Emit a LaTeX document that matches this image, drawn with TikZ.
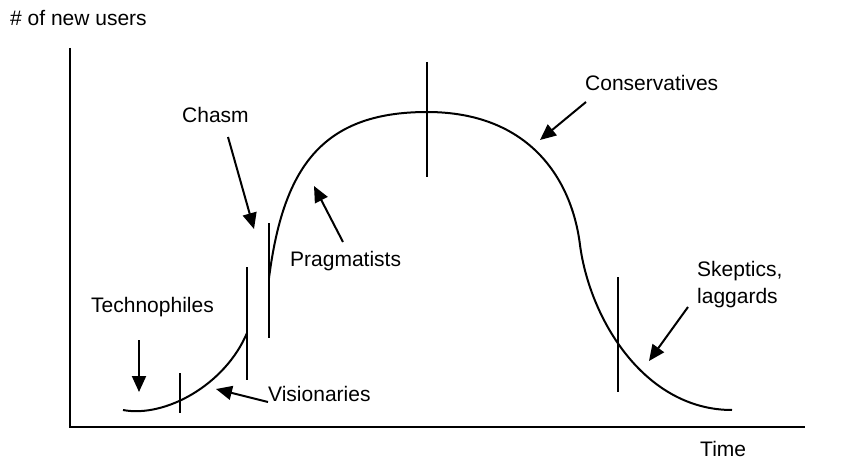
\documentclass[tikz,border=0pt]{standalone}
\usepackage{fontspec}
\setmainfont{Liberation Sans}
\usetikzlibrary{arrows.meta}
\tikzset{
  lbl/.style={inner sep=0pt, anchor=base west, font=\fontsize{21}{27}\selectfont},
  axisline/.style={line width=2.4pt},
  curveline/.style={line width=2pt},
  tickline/.style={line width=2pt},
  ptr/.style={line width=2pt, -{Triangle[length=16pt,width=14pt]}}
}
\begin{document}
\begin{tikzpicture}[x=1pt,y=-1pt]
\useasboundingbox (0,0) rectangle (841,460);
% axes
\coordinate (ytop) at (70,48);
\coordinate (orig) at (70,427);
\coordinate (xend) at (805,427);
\draw[axisline] (ytop) -- (orig) -- (xend);
% labels
\node[lbl] (ylab) at (10,26) {\# of new users};
\node[lbl] (tlab) at (700,456) {Time};
\node[lbl] (techno) at (91,312) {Technophiles};
\node[lbl] (vision) at (268,401) {Visionaries};
\node[lbl] (chasm) at (182,122) {Chasm};
\node[lbl] (pragma) at (290,266) {Pragmatists};
\node[lbl] (conserv) at (585,91) {Conservatives};
\node[lbl, align=left] (skep) at (697,303) {Skeptics,\\laggards};
% curve
\coordinate (c0) at (123,410);
\coordinate (c1) at (247,333);
\coordinate (c2) at (269,278);
\coordinate (peak) at (427,112);
\coordinate (c3) at (580,245);
\coordinate (c4) at (732,410);
\draw[curveline] (c0) .. controls (165,418) and (225,385) .. (c1);
\draw[curveline] (c2) .. controls (283,170) and (320,112) .. (peak)
  .. controls (530,112) and (572,180) .. (c3)
  .. controls (590,320) and (645,410) .. (c4);
% ticks
\coordinate (t1a) at (180,373); \coordinate (t1b) at (180,413);
\coordinate (t2a) at (247,267); \coordinate (t2b) at (247,380);
\coordinate (t3a) at (269,223); \coordinate (t3b) at (269,338);
\coordinate (t4a) at (427,62);  \coordinate (t4b) at (427,177);
\coordinate (t5a) at (618,277); \coordinate (t5b) at (618,392);
\draw[tickline] (t1a) -- (t1b);
\draw[tickline] (t2a) -- (t2b);
\draw[tickline] (t3a) -- (t3b);
\draw[tickline] (t4a) -- (t4b);
\draw[tickline] (t5a) -- (t5b);
% arrows
\coordinate (aTs) at (139,340); \coordinate (aTe) at (139,392);
\coordinate (aVs) at (268,402); \coordinate (aVe) at (216,389);
\coordinate (aCs) at (228,137); \coordinate (aCe) at (254,229);
\coordinate (aPs) at (343,242); \coordinate (aPe) at (314,186);
\coordinate (aKs) at (586,102); \coordinate (aKe) at (540,140);
\coordinate (aSs) at (688,307); \coordinate (aSe) at (649,361);
\draw[ptr] (aTs) -- (aTe);
\draw[ptr] (aVs) -- (aVe);
\draw[ptr] (aCs) -- (aCe);
\draw[ptr] (aPs) -- (aPe);
\draw[ptr] (aKs) -- (aKe);
\draw[ptr] (aSs) -- (aSe);
\end{tikzpicture}
\end{document}
